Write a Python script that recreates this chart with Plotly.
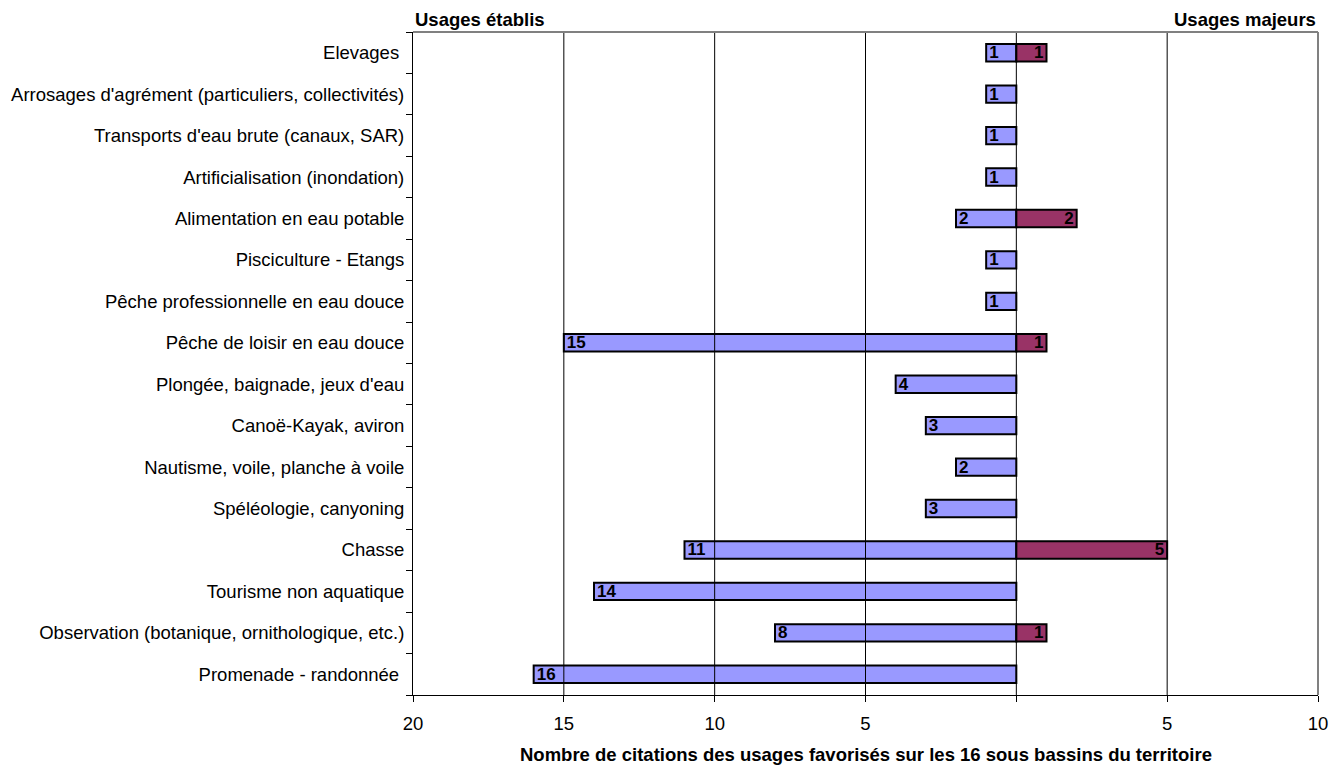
import plotly.graph_objects as go

# Usages, listed top to bottom
categories = [
    "Elevages\u00a0",
    "Arrosages d'agrément (particuliers, collectivités)",
    "Transports d'eau brute (canaux, SAR)",
    "Artificialisation (inondation)",
    "Alimentation en eau potable",
    "Pisciculture - Etangs",
    "Pêche professionnelle en eau douce",
    "Pêche de loisir en eau douce",
    "Plongée, baignade, jeux d'eau",
    "Canoë-Kayak, aviron",
    "Nautisme, voile, planche à voile",
    "Spéléologie, canyoning",
    "Chasse",
    "Tourisme non aquatique",
    "Observation (botanique, ornithologique, etc.)",
    "Promenade - randonnée\u00a0",
]
usages_etablis = [1, 1, 1, 1, 2, 1, 1, 15, 4, 3, 2, 3, 11, 14, 8, 16]
usages_majeurs = [1, 0, 0, 0, 2, 0, 0, 1, 0, 0, 0, 0, 5, 0, 1, 0]

tick_vals = [-20, -15, -10, -5, 0, 5, 10]
tick_text = ["20", "15", "10", "5", "", "5", "10"]

FONT = "Liberation Sans, Arial, sans-serif"
FS = 18.5

fig = go.Figure()

fig.add_trace(go.Bar(
    y=categories,
    x=[-v for v in usages_etablis],
    orientation="h",
    marker=dict(color="#9999FF", line=dict(color="#000000", width=2)),
    text=[str(v) for v in usages_etablis],
    textposition="inside",
    insidetextanchor="end",
    textangle=0,
    constraintext="none",
    textfont=dict(family=FONT, size=17, color="#000000", weight="bold"),
    hoverinfo="skip",
))

maj_y = [c for c, v in zip(categories, usages_majeurs) if v > 0]
maj_x = [v for v in usages_majeurs if v > 0]
fig.add_trace(go.Bar(
    y=maj_y,
    x=maj_x,
    orientation="h",
    marker=dict(color="#993366", line=dict(color="#000000", width=2)),
    text=[str(v) for v in maj_x],
    textposition="inside",
    insidetextanchor="end",
    textangle=0,
    constraintext="none",
    textfont=dict(family=FONT, size=17, color="#000000", weight="bold"),
    hoverinfo="skip",
))

# Vertical reference lines
for gx in [-15, -10, -5, 0, 5]:
    fig.add_shape(type="line", xref="x", yref="paper", x0=gx, x1=gx, y0=0, y1=1,
                  line=dict(color="#000000", width=1), layer="above")
# Gray frame on top and right
fig.add_shape(type="line", xref="paper", yref="paper", x0=0, x1=1, y0=1, y1=1,
              line=dict(color="#808080", width=2))
fig.add_shape(type="line", xref="paper", yref="paper", x0=1, x1=1, y0=0, y1=1,
              line=dict(color="#808080", width=2))

fig.update_layout(
    width=1342, height=766,
    margin=dict(l=413, r=24, t=32, b=71),
    paper_bgcolor="white", plot_bgcolor="white",
    barmode="relative",
    bargap=0.58,
    showlegend=False,
    font=dict(family=FONT, size=FS, color="#000000"),
    xaxis=dict(
        range=[-20, 10],
        tickvals=tick_vals, ticktext=tick_text,
        showgrid=False, zeroline=False,
        showline=True, linecolor="#000000", linewidth=1,
        ticks="outside", ticklen=6, tickcolor="#000000",
        tickfont=dict(size=FS),
        ticklabelstandoff=6,
        automargin=False,
        fixedrange=True,
    ),
    yaxis=dict(
        categoryorder="array", categoryarray=categories[::-1],
        showgrid=False, zeroline=False,
        showline=True, linecolor="#000000", linewidth=1,
        ticks="outside", ticklen=6, tickcolor="#000000",
        tickson="boundaries",
        tickfont=dict(size=FS),
        ticklabelstandoff=4,
        automargin=False,
        fixedrange=True,
    ),
    annotations=[
        dict(text="<b>Usages établis</b>", xref="paper", yref="paper", x=0, y=1,
             xanchor="left", yanchor="bottom", yshift=0, showarrow=False,
             font=dict(size=FS)),
        dict(text="<b>Usages majeurs</b>", xref="paper", yref="paper", x=1, y=1,
             xanchor="right", yanchor="bottom", yshift=0, showarrow=False,
             font=dict(size=FS)),
        dict(text="<b>Nombre de citations des usages favorisés sur les 16 sous bassins du territoire</b>",
             xref="paper", yref="paper", x=0.5, y=0, xanchor="center", yanchor="middle",
             yshift=-59, showarrow=False, font=dict(size=FS)),
    ],
)

fig.write_html("out.html")
